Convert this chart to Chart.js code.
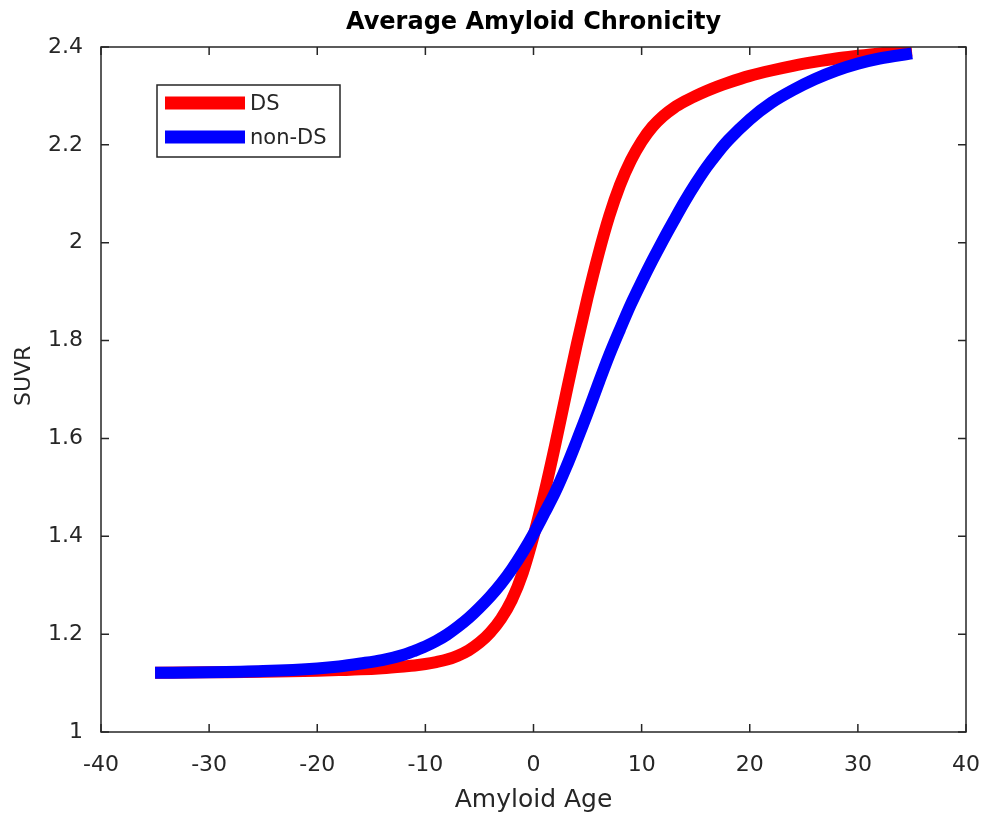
<!DOCTYPE html>
<html>
<head>
<meta charset="utf-8">
<title>Average Amyloid Chronicity</title>
<script src="https://cdn.jsdelivr.net/npm/chart.js"></script>
<style>
  html, body { margin: 0; padding: 0; background: #fff; }
  #wrap { width: 986px; height: 819px; position: relative; }
</style>
</head>
<body>
<div id="wrap"><canvas id="myChart"></canvas></div>
<script>
// amyloid age (years relative to amyloid onset)
let ages = [-35, -30, -25, -20, -18, -16, -14, -12, -11, -10, -9, -8, -7, -6, -5, -4, -3, -2, -1, 0,
            1, 2, 3, 4, 5, 6, 7, 8, 9, 10, 11, 12, 13, 14, 15, 16, 17, 18, 20, 22, 24, 26, 28, 30, 32, 35];
// mean SUVR curves
let dsSuvr = [1.121, 1.122, 1.123, 1.125, 1.1265, 1.128, 1.1305, 1.134, 1.136, 1.139, 1.143, 1.148,
              1.156, 1.167, 1.1825, 1.2035, 1.2315, 1.270, 1.325, 1.400,
              1.488, 1.586, 1.690, 1.792, 1.888, 1.976, 2.054, 2.118, 2.168, 2.207, 2.237, 2.259,
              2.276, 2.289, 2.300, 2.310, 2.319, 2.327, 2.341, 2.352, 2.3615, 2.3695, 2.3765, 2.382,
              2.387, 2.393];
let nonDsSuvr = [1.121, 1.122, 1.1245, 1.130, 1.134, 1.140, 1.147, 1.158, 1.166, 1.175, 1.186, 1.199,
                 1.215, 1.233, 1.254, 1.277, 1.303, 1.333, 1.367, 1.405,
                 1.447, 1.490, 1.540, 1.595, 1.652, 1.712, 1.770, 1.823, 1.874, 1.920, 1.964, 2.006,
                 2.046, 2.085, 2.121, 2.154, 2.183, 2.209, 2.252, 2.286, 2.312, 2.334, 2.352, 2.366,
                 2.3765, 2.387];
let seriesNames = ["DS", "non-DS"];
let colors = ['rgb(255, 0, 0)', 'rgb(0, 0, 255)'];
let xTicks = [-40, -30, -20, -10, 0, 10, 20, 30, 40];
let yTicks = [1, 1.2, 1.4, 1.6, 1.8, 2, 2.2, 2.4];

let axisColor = '#262626';
let fontFamily = "'DejaVu Sans', 'Liberation Sans', Arial, sans-serif";

function toPoints(ys) {
    return ys.map((y, i) => ({ x: ages[i], y: y }));
}

// MATLAB style box with inward ticks on all four sides, plus the y label
let boxAxes = {
    id: 'boxAxes',
    afterDatasetsDraw(chart) {
        let { ctx, chartArea: a, scales } = chart;
        let len = 8;
        ctx.save();
        ctx.strokeStyle = axisColor;
        ctx.lineWidth = 1.5;
        ctx.beginPath();
        xTicks.forEach(v => {
            let px = scales.x.getPixelForValue(v);
            ctx.moveTo(px, a.bottom); ctx.lineTo(px, a.bottom - len);
            ctx.moveTo(px, a.top); ctx.lineTo(px, a.top + len);
        });
        yTicks.forEach(v => {
            let py = scales.y.getPixelForValue(v);
            ctx.moveTo(a.left, py); ctx.lineTo(a.left + len, py);
            ctx.moveTo(a.right, py); ctx.lineTo(a.right - len, py);
        });
        ctx.stroke();
        ctx.strokeRect(a.left, a.top, a.right - a.left, a.bottom - a.top);

        ctx.translate(24, a.top + (a.bottom - a.top) * 0.48);
        ctx.rotate(-Math.PI / 2);
        ctx.fillStyle = axisColor;
        ctx.font = "22px " + fontFamily;
        ctx.textAlign = 'center';
        ctx.textBaseline = 'middle';
        ctx.fillText('SUVR', 0, 0);
        ctx.restore();
    }
};

// boxed legend in the upper left of the plot
let boxLegend = {
    id: 'boxLegend',
    afterDraw(chart) {
        let { ctx, chartArea: a } = chart;
        let left = a.left + 56, top = a.top + 38, w = 183, h = 72;
        ctx.save();
        ctx.fillStyle = '#fff';
        ctx.fillRect(left, top, w, h);
        ctx.strokeStyle = axisColor;
        ctx.lineWidth = 1.5;
        ctx.strokeRect(left, top, w, h);
        chart.data.datasets.forEach((ds, i) => {
            let cy = top + 18 + i * 34;
            ctx.strokeStyle = ds.borderColor;
            ctx.lineWidth = 13;
            ctx.lineCap = 'butt';
            ctx.beginPath();
            ctx.moveTo(left + 8, cy);
            ctx.lineTo(left + 88, cy);
            ctx.stroke();
            ctx.fillStyle = axisColor;
            ctx.font = "21px " + fontFamily;
            ctx.textBaseline = 'middle';
            ctx.fillText(ds.label, left + 93, cy + 2);
        });
        ctx.restore();
    }
};

let ctx = document.getElementById("myChart").getContext('2d');
let myChart = new Chart(ctx, {
    type: 'line',
    data: {
        datasets: [{
            label: seriesNames[0],
            data: toPoints(dsSuvr),
            borderColor: colors[0],
            backgroundColor: colors[0],
            borderWidth: 12,
            borderCapStyle: 'butt',
            pointRadius: 0,
            cubicInterpolationMode: 'monotone',
            order: 1
        }, {
            label: seriesNames[1],
            data: toPoints(nonDsSuvr),
            borderColor: colors[1],
            backgroundColor: colors[1],
            borderWidth: 12,
            borderCapStyle: 'butt',
            pointRadius: 0,
            cubicInterpolationMode: 'monotone',
            order: 0
        }]
    },
    options: {
        responsive: true,
        maintainAspectRatio: false,
        animation: false,
        layout: { padding: { left: 0, right: 20, top: 0, bottom: 0 } },
        plugins: {
            legend: { display: false },
            tooltip: { enabled: false },
            title: {
                display: true,
                fullSize: false,
                text: 'Average Amyloid Chronicity',
                color: '#000',
                font: { family: fontFamily, size: 24, weight: 'bold', lineHeight: 1.2 },
                padding: { top: 8, bottom: 10.2 }
            }
        },
        scales: {
            x: {
                type: 'linear',
                min: -40,
                max: 40,
                afterBuildTicks: s => { s.ticks = xTicks.map(v => ({ value: v })); },
                afterFit: s => { s.height = 87; s.paddingLeft = 0; s.paddingRight = 0; },
                grid: { display: false, drawTicks: false },
                border: { display: false },
                ticks: {
                    color: axisColor,
                    padding: 20,
                    maxRotation: 0,
                    font: { family: fontFamily, size: 22 }
                },
                title: {
                    display: true,
                    text: 'Amyloid Age',
                    color: axisColor,
                    font: { family: fontFamily, size: 25, lineHeight: 1.2 },
                    padding: { top: 0, bottom: 4 }
                }
            },
            y: {
                min: 1,
                max: 2.4,
                afterBuildTicks: s => { s.ticks = yTicks.map(v => ({ value: v })); },
                afterFit: s => { s.width = 101; },
                grid: { display: false, drawTicks: false },
                border: { display: false },
                ticks: {
                    color: axisColor,
                    padding: 18,
                    font: { family: fontFamily, size: 22 },
                    callback: v => String(+v.toFixed(1))
                }
            }
        }
    },
    plugins: [boxAxes, boxLegend]
});
</script>
</body>
</html>
